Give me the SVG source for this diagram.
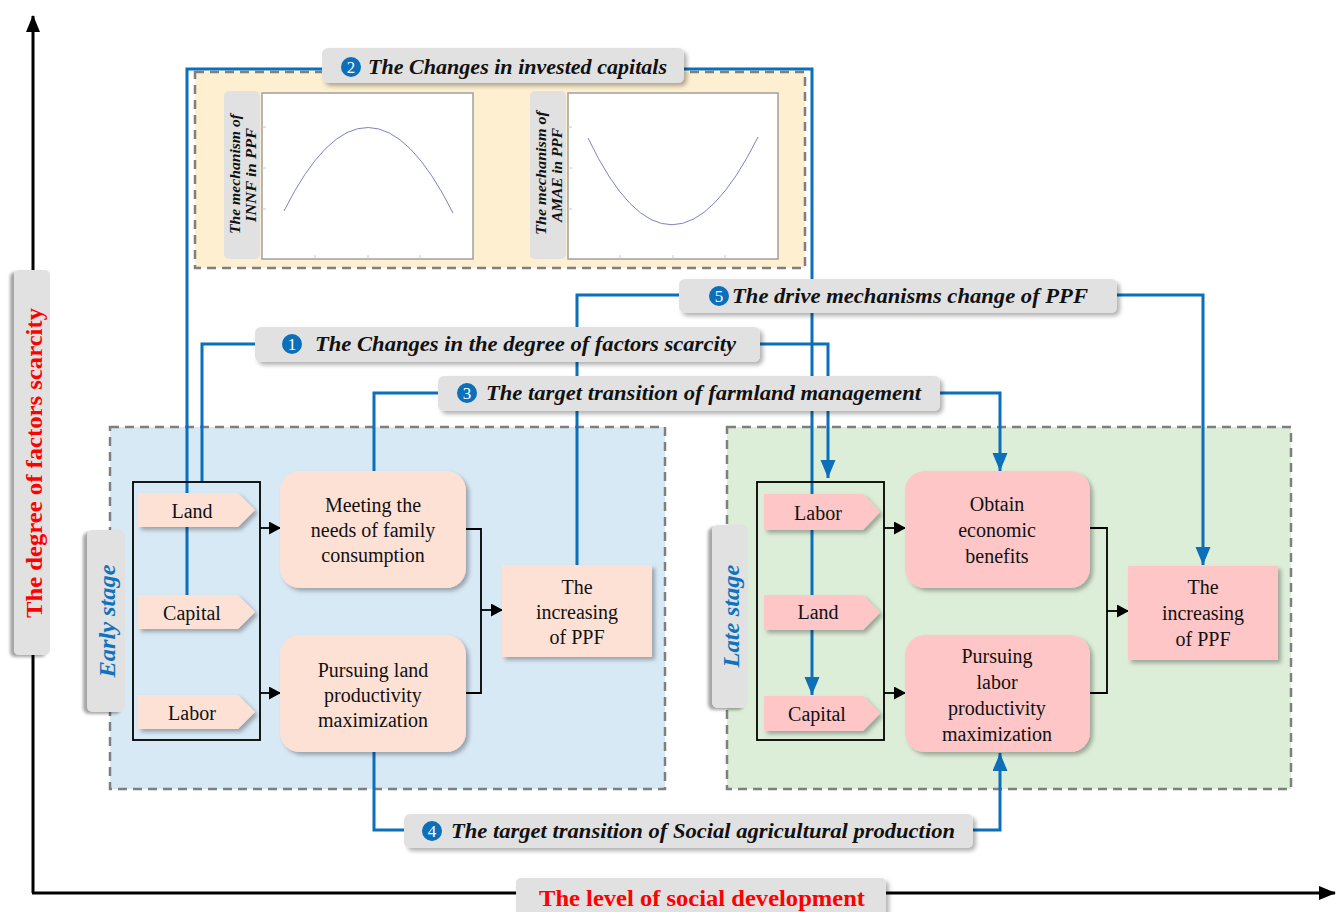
<svg xmlns="http://www.w3.org/2000/svg" width="1341" height="912" viewBox="0 0 1341 912">
<defs>
  <style>
    .panel{stroke:#7f7f7f;stroke-width:2.5;stroke-dasharray:9 6}
    .lbl{fill:#e1e1e1}
    .lt{font-family:"Liberation Serif",serif;font-style:italic;font-weight:bold;font-size:20px;fill:#111}
    .num{font-family:"Liberation Serif",serif;font-size:17px;fill:#fff;text-anchor:middle}
    .nt{font-family:"Liberation Serif",serif;font-size:20px;fill:#111;text-anchor:middle}
    .peach{fill:#fde1d5}
    .pink{fill:#fec6c6}
    .blue{fill:none;stroke:#0b6fba;stroke-width:3}
    .blk{fill:none;stroke:#000;stroke-width:1.8}
    .stage{font-family:"Liberation Serif",serif;font-style:italic;font-weight:bold;font-size:23px;fill:#1173bb;text-anchor:middle}
    .axl{font-family:"Liberation Serif",serif;font-weight:bold;font-size:23px;fill:#ff0000;text-anchor:middle}
    .mech{font-family:"Liberation Serif",serif;font-style:italic;font-weight:bold;font-size:14px;fill:#111;text-anchor:middle}
    .chart{fill:#fff;stroke:#a0a0a0;stroke-width:1.5}
    .curve{fill:none;stroke:#8080c4;stroke-width:1}
    .tick{stroke:#c8c8c8;stroke-width:1}
  </style>
  <filter id="sh" x="-20%" y="-20%" width="140%" height="140%">
    <feDropShadow dx="3" dy="3" stdDeviation="2" flood-color="#000" flood-opacity="0.3"/>
  </filter>
  <filter id="shl" x="-30%" y="-10%" width="160%" height="120%">
    <feDropShadow dx="-4" dy="2" stdDeviation="1.5" flood-color="#000" flood-opacity="0.35"/>
  </filter>
  <marker id="ab" markerUnits="userSpaceOnUse" markerWidth="20" markerHeight="16" refX="18" refY="7.5" orient="auto">
    <path d="M0,0 L18,7.5 L0,15 z" fill="#0b6fba"/>
  </marker>
  <marker id="ak" markerUnits="userSpaceOnUse" markerWidth="13" markerHeight="14" refX="11" refY="6.5" orient="auto">
    <path d="M0,0 L12,6.5 L0,13 z" fill="#000"/>
  </marker>
  <marker id="ax" markerUnits="userSpaceOnUse" markerWidth="20" markerHeight="16" refX="16" refY="7" orient="auto">
    <path d="M0,0 L17,7 L0,14 z" fill="#000"/>
  </marker>
</defs>
<rect width="1341" height="912" fill="#fff"/>

<!-- axes -->
<g id="axes">
  <path d="M33,893 V16" stroke="#000" stroke-width="3" fill="none" marker-end="url(#ax)"/>
  <path d="M32,893 H1335" stroke="#000" stroke-width="3" fill="none" marker-end="url(#ax)"/>
</g>
<g id="y-axis-label">
  <rect x="14" y="270" width="36" height="385" rx="5" class="lbl" filter="url(#shl)"/>
  <text class="axl" transform="translate(42,463) rotate(-90)" textLength="310" lengthAdjust="spacingAndGlyphs">The degree of factors scarcity</text>
</g>
<g id="x-axis-label">
  <rect x="516" y="878" width="370" height="44" rx="5" class="lbl" filter="url(#sh)"/>
  <text class="axl" x="702" y="906" textLength="326" lengthAdjust="spacingAndGlyphs">The level of social development</text>
</g>

<!-- panels -->
<g id="early-panel">
  <rect x="110" y="427" width="555" height="362" fill="#d8e9f6" class="panel"/>
</g>
<g id="late-panel">
  <rect x="727" y="427" width="564" height="362" fill="#ddeed8" class="panel"/>
</g>
<g id="inset">
  <rect x="195" y="72" width="610" height="196" fill="#fdefd0" class="panel"/>
  <rect x="224" y="91" width="36" height="168" rx="5" class="lbl"/>
  <rect x="530" y="91" width="36" height="168" rx="5" class="lbl"/>
  <rect x="262" y="93" width="211" height="166" class="chart"/>
  <rect x="568" y="93" width="210" height="166" class="chart"/>
  <g class="tick">
    <path d="M262,127 h4 M262,168 h4 M262,209 h4 M315,259 v-4 M368,259 v-4 M420,259 v-4"/>
    <path d="M568,127 h4 M568,168 h4 M568,209 h4 M620,259 v-4 M673,259 v-4 M725,259 v-4"/>
  </g>
  <path class="curve" d="M284,211 Q368,43 453,213"/>
  <path class="curve" d="M588,138 Q671,312 758,137"/>
  <text class="mech" transform="translate(240,174) rotate(-90)" textLength="120" lengthAdjust="spacingAndGlyphs">The mechanism of</text>
  <text class="mech" transform="translate(256,175) rotate(-90)" textLength="94" lengthAdjust="spacingAndGlyphs">INNF  in  PPF</text>
  <text class="mech" transform="translate(546,173) rotate(-90)" textLength="124" lengthAdjust="spacingAndGlyphs">The mechanism of</text>
  <text class="mech" transform="translate(562,175) rotate(-90)" textLength="94" lengthAdjust="spacingAndGlyphs">AMAE in PPF</text>
</g>

<!-- connectors -->
<g id="connectors">
  <path class="blue" d="M187,595 V69 H812 V695" marker-end="url(#ab)"/>
  <path class="blue" d="M202,482 V344 H828 V478" marker-end="url(#ab)"/>
  <path class="blue" d="M577,565 V295 H1203 V565" marker-end="url(#ab)"/>
  <path class="blue" d="M374,471 V393 H1000 V471" marker-end="url(#ab)"/>
  <path class="blue" d="M374,752 V830 H1000 V753" marker-end="url(#ab)"/>
  <path class="blk" d="M260,528 H280" marker-end="url(#ak)"/>
  <path class="blk" d="M260,693 H280" marker-end="url(#ak)"/>
  <path class="blk" d="M466,529 H481 V693 H466"/>
  <path class="blk" d="M481,610 H502" marker-end="url(#ak)"/>
  <path class="blk" d="M884,528 H905" marker-end="url(#ak)"/>
  <path class="blk" d="M884,693 H905" marker-end="url(#ak)"/>
  <path class="blk" d="M1090,528 H1107 V693 H1090"/>
  <path class="blk" d="M1107,611 H1128" marker-end="url(#ak)"/>
</g>

<!-- brackets -->
<g id="early-factors-box"><rect x="133" y="482" width="127" height="258" fill="none" stroke="#000" stroke-width="1.8"/></g>
<g id="late-factors-box"><rect x="757" y="482" width="127" height="258" fill="none" stroke="#000" stroke-width="1.8"/></g>

<!-- stage labels -->
<g id="early-stage-label">
  <rect x="87" y="530" width="38" height="182" rx="6" class="lbl" filter="url(#shl)"/>
  <text class="stage" transform="translate(115,621) rotate(-90)" textLength="113" lengthAdjust="spacingAndGlyphs">Early stage</text>
</g>
<g id="late-stage-label">
  <rect x="712" y="525" width="36" height="183" rx="6" class="lbl" filter="url(#shl)"/>
  <text class="stage" transform="translate(739,616) rotate(-90)" textLength="103" lengthAdjust="spacingAndGlyphs">Late stage</text>
</g>

<!-- early nodes -->
<g id="early-land"><path class="peach" filter="url(#sh)" d="M138,493 H238 L255,510 L238,527 H138 z"/><text class="nt" x="192" y="518">Land</text></g>
<g id="early-capital"><path class="peach" filter="url(#sh)" d="M138,595 H238 L255,612 L238,629 H138 z"/><text class="nt" x="192" y="620">Capital</text></g>
<g id="early-labor"><path class="peach" filter="url(#sh)" d="M138,695 H238 L255,712 L238,729 H138 z"/><text class="nt" x="192" y="720">Labor</text></g>
<g id="meeting-needs"><rect class="peach" filter="url(#sh)" x="280" y="471" width="186" height="117" rx="20"/>
  <text class="nt" x="373" y="512">Meeting the</text><text class="nt" x="373" y="537">needs of family</text><text class="nt" x="373" y="562">consumption</text></g>
<g id="pursuing-land"><rect class="peach" filter="url(#sh)" x="280" y="635" width="186" height="117" rx="20"/>
  <text class="nt" x="373" y="677">Pursuing land</text><text class="nt" x="373" y="702">productivity</text><text class="nt" x="373" y="727">maximization</text></g>
<g id="early-ppf"><rect class="peach" filter="url(#sh)" x="502" y="565" width="150" height="92"/>
  <text class="nt" x="577" y="594">The</text><text class="nt" x="577" y="619">increasing</text><text class="nt" x="577" y="644">of PPF</text></g>

<!-- late nodes -->
<g id="late-labor"><path class="pink" filter="url(#sh)" d="M764,494 H863 L880,512 L863,530 H764 z"/><text class="nt" x="818" y="520">Labor</text></g>
<g id="late-land"><path class="pink" filter="url(#sh)" d="M764,595 H863 L880,612.5 L863,630 H764 z"/><text class="nt" x="818" y="619">Land</text></g>
<g id="late-capital"><path class="pink" filter="url(#sh)" d="M764,696 H863 L880,713.5 L863,731 H764 z"/><text class="nt" x="817" y="721">Capital</text></g>
<g id="obtain-benefits"><rect class="pink" filter="url(#sh)" x="905" y="471" width="185" height="117" rx="20"/>
  <text class="nt" x="997" y="511">Obtain</text><text class="nt" x="997" y="537">economic</text><text class="nt" x="997" y="563">benefits</text></g>
<g id="pursuing-labor"><rect class="pink" filter="url(#sh)" x="905" y="635" width="185" height="117" rx="20"/>
  <text class="nt" x="997" y="663">Pursuing</text><text class="nt" x="997" y="689">labor</text><text class="nt" x="997" y="715">productivity</text><text class="nt" x="997" y="741">maximization</text></g>
<g id="late-ppf"><rect class="pink" filter="url(#sh)" x="1128" y="566" width="150" height="94"/>
  <text class="nt" x="1203" y="594">The</text><text class="nt" x="1203" y="620">increasing</text><text class="nt" x="1203" y="646">of PPF</text></g>

<!-- connector labels -->
<g id="label-2">
  <rect x="322" y="48" width="362" height="35" rx="6" class="lbl" filter="url(#sh)"/>
  <circle cx="351" cy="67" r="10" fill="#0b6fba"/><text class="num" x="351" y="73">2</text>
  <text class="lt" x="368" y="74" textLength="299" lengthAdjust="spacingAndGlyphs">The Changes in invested capitals</text>
</g>
<g id="label-5">
  <rect x="679" y="279" width="438" height="34" rx="6" class="lbl" filter="url(#sh)"/>
  <circle cx="719" cy="296" r="10" fill="#0b6fba"/><text class="num" x="719" y="302">5</text>
  <text class="lt" x="732" y="303" textLength="356" lengthAdjust="spacingAndGlyphs">The drive mechanisms change of PPF</text>
</g>
<g id="label-1">
  <rect x="255" y="327" width="505" height="35" rx="6" class="lbl" filter="url(#sh)"/>
  <circle cx="292" cy="344" r="10" fill="#0b6fba"/><text class="num" x="292" y="350">1</text>
  <text class="lt" x="315" y="351" textLength="421" lengthAdjust="spacingAndGlyphs">The Changes in the degree of factors scarcity</text>
</g>
<g id="label-3">
  <rect x="438" y="376" width="502" height="35" rx="6" class="lbl" filter="url(#sh)"/>
  <circle cx="467" cy="393" r="10" fill="#0b6fba"/><text class="num" x="467" y="399">3</text>
  <text class="lt" x="486" y="400" textLength="435" lengthAdjust="spacingAndGlyphs">The target transition of farmland management</text>
</g>
<g id="label-4">
  <rect x="404" y="814" width="569" height="34" rx="6" class="lbl" filter="url(#sh)"/>
  <circle cx="432" cy="831" r="10" fill="#0b6fba"/><text class="num" x="432" y="837">4</text>
  <text class="lt" x="451" y="838" textLength="504" lengthAdjust="spacingAndGlyphs">The target transition of Social agricultural production</text>
</g>
</svg>
